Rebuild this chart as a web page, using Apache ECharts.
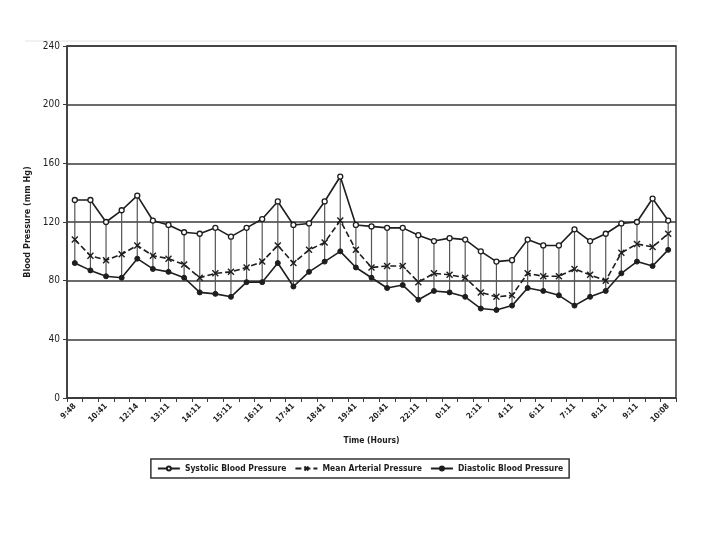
<!DOCTYPE html>
<html>
<head>
<meta charset="utf-8">
<script src="https://cdn.jsdelivr.net/npm/echarts@6/dist/echarts.min.js"></script>
<style>
  html, body { margin: 0; padding: 0; background: #fff; }
  #main { width: 720px; height: 540px; }
</style>
</head>
<body>
<div id="main"></div>
<script>
// time stamps (only every other one is labelled on the axis)
var times = ["9:48", "10:11", "10:41", "11:41", "12:14", "12:41", "13:11", "13:41",
  "14:11", "14:41", "15:11", "15:41", "16:11", "17:11", "17:41", "18:11", "18:41",
  "19:11", "19:41", "20:11", "20:41", "21:41", "22:11", "23:11", "0:11", "1:11",
  "2:11", "3:11", "4:11", "5:11", "6:11", "6:41", "7:11", "7:41", "8:11", "8:41",
  "9:11", "9:41", "10:08"];

var systolic = [135, 135, 120, 128, 138, 121, 118, 113, 112, 116, 110, 116, 122,
  134, 118, 119, 134, 151, 118, 117, 116, 116, 111, 107, 109, 108, 100, 93, 94,
  108, 104, 104, 115, 107, 112, 119, 120, 136, 121];

var mean = [108, 97, 94, 98, 104, 97, 95, 91, 82, 85, 86, 89, 93,
  104, 92, 101, 106, 121, 101, 89, 90, 90, 79, 85, 84, 82, 72, 69, 70,
  85, 83, 83, 88, 84, 80, 99, 105, 103, 112];

var diastolic = [92, 87, 83, 82, 95, 88, 86, 82, 72, 71, 69, 79, 79,
  92, 76, 86, 93, 100, 89, 82, 75, 77, 67, 73, 72, 69, 61, 60, 63,
  75, 73, 70, 63, 69, 73, 85, 93, 90, 101];

var ink = "#1e1e1e";
var narrow = "'Liberation Sans Narrow', 'DejaVu Sans Condensed', 'Liberation Sans', sans-serif";

var ranges = systolic.map(function (s, i) { return [i, diastolic[i], s]; });

var chart = echarts.init(document.getElementById("main"));

var option = {
  backgroundColor: "#fff",
  animation: false,
  textStyle: { fontFamily: narrow },
  graphic: [
    {
      type: "line",
      shape: { x1: 25, y1: 41, x2: 678, y2: 41 },
      style: { stroke: "#e6e4de", lineWidth: 1 }
    }
  ],
  grid: {
    left: 67, right: 44, top: 46, bottom: 142,
    show: true, borderColor: "#3a3a3a", borderWidth: 1.5
  },
  legend: {
    bottom: 62,
    left: "center",
    itemWidth: 22,
    itemHeight: 5,
    itemGap: 8,
    padding: [5, 6],
    borderColor: "#333",
    borderWidth: 1.5,
    textStyle: { fontFamily: narrow, fontSize: 8.5, fontWeight: "bold", color: ink },
    data: ["Systolic Blood Pressure", "Mean Arterial Pressure", "Diastolic Blood Pressure"]
  },
  xAxis: {
    type: "category",
    data: times,
    boundaryGap: true,
    name: "Time (Hours)",
    nameLocation: "middle",
    nameGap: 38,
    nameTextStyle: { fontFamily: narrow, fontSize: 8.5, fontWeight: "bold", color: ink },
    axisLine: { lineStyle: { color: "#3a3a3a", width: 1.5 } },
    axisTick: { show: true, interval: 0, length: 4, inside: false, lineStyle: { color: "#3a3a3a" } },
    axisLabel: {
      interval: 1, rotate: 45, margin: 7,
      fontFamily: narrow, fontSize: 8, fontWeight: "bold", color: ink
    },
    splitLine: { show: false }
  },
  yAxis: {
    type: "value",
    min: 0, max: 240, interval: 40,
    name: "Blood Pressure (mm Hg)",
    nameLocation: "middle",
    nameGap: 22,
    nameTextStyle: { fontFamily: narrow, fontSize: 9, fontWeight: "bold", color: ink },
    axisLine: { show: true, lineStyle: { color: "#3a3a3a", width: 1.5 } },
    axisTick: { show: true, length: 4, lineStyle: { color: "#3a3a3a" } },
    axisLabel: { fontFamily: narrow, fontSize: 10, color: ink, margin: 7 },
    splitLine: { lineStyle: { color: "#3a3a3a", width: 1.5 } }
  },
  series: [
    {
      name: "High-Low",
      type: "custom",
      silent: true,
      data: ranges,
      encode: { x: 0, y: [1, 2] },
      renderItem: function (params, api) {
        var lo = api.coord([api.value(0), api.value(1)]);
        var hi = api.coord([api.value(0), api.value(2)]);
        return {
          type: "line",
          shape: { x1: lo[0], y1: lo[1], x2: hi[0], y2: hi[1] },
          style: { stroke: "#555", lineWidth: 1.2 }
        };
      },
      z: 1
    },
    {
      name: "Systolic Blood Pressure",
      type: "line",
      data: systolic,
      symbol: "circle",
      symbolSize: 5,
      itemStyle: { color: "#fff", borderColor: ink, borderWidth: 1.3 },
      lineStyle: { color: ink, width: 1.6 },
      z: 3
    },
    {
      name: "Mean Arterial Pressure",
      type: "line",
      data: mean,
      symbol: "path://M0,0L10,10M10,0L0,10",
      symbolSize: 6,
      itemStyle: { color: "none", borderColor: ink, borderWidth: 1.4 },
      lineStyle: { color: ink, width: 1.6, type: [6, 3] },
      z: 3
    },
    {
      name: "Diastolic Blood Pressure",
      type: "line",
      data: diastolic,
      symbol: "circle",
      symbolSize: 5,
      itemStyle: { color: ink, borderColor: ink, borderWidth: 1 },
      lineStyle: { color: ink, width: 1.6 },
      z: 3
    }
  ]
};

chart.setOption(option);
</script>
</body>
</html>
